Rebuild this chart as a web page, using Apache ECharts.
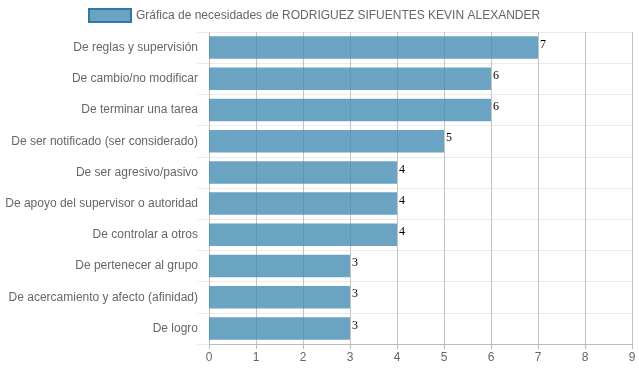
<!DOCTYPE html>
<html>
<head>
<meta charset="utf-8">
<script src="https://cdn.jsdelivr.net/npm/echarts@6/dist/echarts.min.js"></script>
<style>html,body{margin:0;padding:0;background:#fff;}#c{width:639px;height:372px;}</style>
</head>
<body>
<div id="c"></div>
<script>
const seriesName = 'Gráfica de necesidades de RODRIGUEZ SIFUENTES KEVIN ALEXANDER';
const categories = [
  'De reglas y supervisión',
  'De cambio/no modificar',
  'De terminar una tarea',
  'De ser notificado (ser considerado)',
  'De ser agresivo/pasivo',
  'De apoyo del supervisor o autoridad',
  'De controlar a otros',
  'De pertenecer al grupo',
  'De acercamiento y afecto (afinidad)',
  'De logro'
];
const values = [7, 6, 6, 5, 4, 4, 4, 3, 3, 3];
const xTicks = { min: 0, max: 9, interval: 1 };

const chart = echarts.init(document.getElementById('c'), null, { renderer: 'canvas' });
chart.setOption({
  animation: false,
  textStyle: { fontFamily: 'Liberation Sans, Arial, sans-serif' },
  legend: {
    top: 3,
    left: 83,
    icon: 'rect',
    itemWidth: 42,
    itemHeight: 13,
    itemGap: 10,
    textStyle: { color: '#666', fontSize: 12 },
    itemStyle: { borderColor: '#2f79a6', borderWidth: 2 },
    data: [seriesName]
  },
  grid: { left: 209, right: 7, top: 32, bottom: 28, containLabel: false },
  xAxis: {
    type: 'value',
    min: xTicks.min, max: xTicks.max, interval: xTicks.interval,
    axisLine: { show: true, lineStyle: { color: '#bbb' } },
    axisTick: { show: true, length: 5, lineStyle: { color: '#bbb' } },
    axisLabel: { color: '#666', fontSize: 12, margin: 8 },
    splitLine: { show: true, lineStyle: { color: '#c4c4c4', width: 1 } }
  },
  yAxis: {
    type: 'category',
    inverse: true,
    data: categories,
    axisLine: { show: false },
    axisTick: { show: true, length: 12, lineStyle: { color: '#ebebeb' } },
    axisLabel: { color: '#666', fontSize: 12, margin: 11 },
    splitLine: { show: true, lineStyle: { color: '#ebebeb' } }
  },
  series: [{
    name: seriesName,
    type: 'bar',
    data: values,
    barCategoryGap: '28%',
    itemStyle: { color: 'rgba(70,140,180,0.8)' },
    label: {
      show: true,
      position: 'right',
      distance: 2,
      offset: [0, -3],
      color: '#000',
      fontSize: 12,
      fontFamily: 'Liberation Serif, DejaVu Serif, serif'
    }
  }]
});
</script>
</body>
</html>
